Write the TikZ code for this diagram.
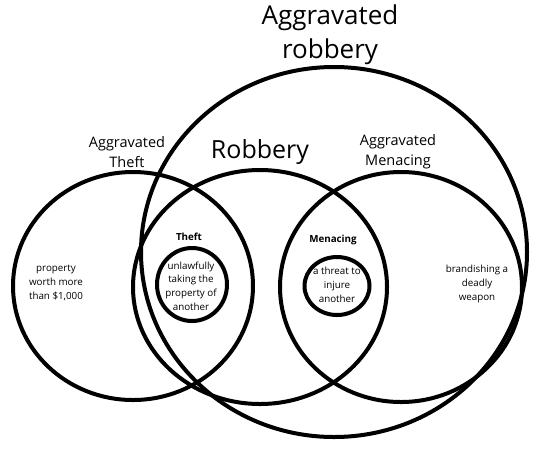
\documentclass[tikz,border=0pt]{standalone}
\usepackage{fontspec}
\setmainfont{Open Sans}
\usetikzlibrary{shapes.geometric}
\begin{document}
\begin{tikzpicture}[x=1pt,y=-1pt,
  ring/.style={draw=black,line width=4pt,fill=none,ellipse,inner sep=0pt},
  lbl/.style={align=center,inner sep=0pt,font=\fontsize{9.8}{13.8}\selectfont},
  blbl/.style={align=center,inner sep=0pt,font=\fontsize{9.8}{11}\selectfont\bfseries},
  mid/.style={align=center,inner sep=0pt,font=\fontsize{14.5}{20}\selectfont},
  big/.style={align=center,inner sep=0pt,font=\fontsize{26}{34}\selectfont}]
\useasboundingbox (0,0) rectangle (540,451);
% circles
\node[ring,minimum width=386pt,minimum height=370pt] (aggrob) at (334,252) {};
\node[ring,minimum width=240pt,minimum height=228pt] (aggtheft) at (133,286) {};
\node[ring,minimum width=254pt,minimum height=234pt] (robbery) at (260,287) {};
\node[ring,minimum width=242pt,minimum height=230pt] (aggmen) at (401,287) {};
\node[ring,minimum width=70pt,minimum height=73pt] (theft) at (192,284.5) {};
\node[ring,minimum width=65pt,minimum height=58pt] (menacing) at (337,286) {};
% labels
\node[big] (tbig) at (330,35) {Aggravated\\robbery};
\node[mid] (ttheft) at (127,152) {Aggravated\\Theft};
\node[mid,font=\fontsize{25}{28}\selectfont] (trob) at (260,152) {Robbery};
\node[mid] (tmen) at (398,152) {Aggravated\\Menacing};
\node[lbl] (tprop) at (56,283) {property\\worth more\\than \$1,000};
\node[blbl] (ttheftb) at (189,237) {Theft};
\node[lbl] (tunl) at (191,286) {unlawfully\\taking the\\property of\\another};
\node[blbl] (tmenb) at (333,240) {Menacing};
\node[lbl] (tthreat) at (337,285) {a threat to\\injure\\another};
\node[lbl] (tbrand) at (477,284) {brandishing a\\deadly\\weapon};
\end{tikzpicture}
\end{document}
